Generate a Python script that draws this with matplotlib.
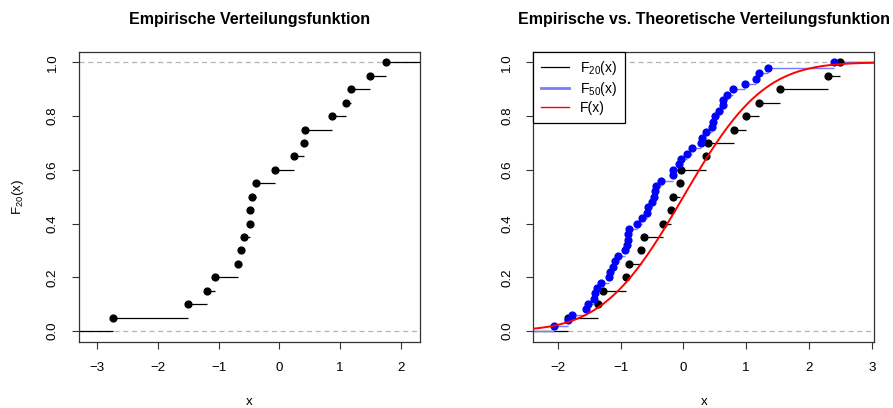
import math
import numpy as np
import matplotlib
matplotlib.use('Agg')
import matplotlib.pyplot as plt
from matplotlib.lines import Line2D

plt.rcParams['font.family'] = ['Liberation Sans', 'DejaVu Sans']
plt.rcParams['mathtext.fontset'] = 'custom'
plt.rcParams['mathtext.rm'] = 'Liberation Sans'
plt.rcParams['mathtext.it'] = 'Liberation Sans:italic'

# sample of 20 (left panel)
x20_left = [-2.735, -1.509, -1.186, -1.054, -0.686, -0.637, -0.587, -0.488, -0.483, -0.450,
            -0.389, -0.071, 0.247, 0.401, 0.429, 0.868, 1.104, 1.176, 1.499, 1.753]

# sample of 20 (right panel)
x20_right = [-1.841, -1.355, -1.286, -0.910, -0.862, -0.677, -0.619, -0.317, -0.201, -0.164,
             -0.058, -0.032, 0.354, 0.386, 0.798, 0.994, 1.211, 1.539, 2.306, 2.492]

# sample of 50 (right panel)
x50 = [-2.064, -1.831, -1.773, -1.551, -1.514, -1.429, -1.408, -1.381, -1.313, -1.191,
       -1.165, -1.128, -1.090, -1.048, -0.932, -0.900, -0.884, -0.879, -0.863, -0.746,
       -0.657, -0.577, -0.567, -0.498, -0.466, -0.450, -0.429, -0.350, -0.170, -0.159,
       -0.069, -0.032, 0.058, 0.137, 0.275, 0.301, 0.354, 0.460, 0.476, 0.497,
       0.566, 0.624, 0.629, 0.688, 0.788, 0.979, 1.153, 1.211, 1.349, 2.397]

titles = ['Empirische Verteilungsfunktion', 'Empirische vs. Theoretische Verteilungsfunktion']
legend_labels = [r'F$_{20}$(x)', r'F$_{50}$(x)', 'F(x)']
yticks = [0.0, 0.2, 0.4, 0.6, 0.8, 1.0]

FS = 9.6


def r_xlim(knots):
	rx = (min(knots), max(knots))
	dr = max(0.08 * (rx[1] - rx[0]), np.median(np.diff(sorted(knots))))
	lo, hi = rx[0] - dr, rx[1] + dr
	ext = 0.04 * (hi - lo)
	return lo - ext, hi + ext


def ecdf_plot(ax, data, col, linecol, lw, xlim):
	d = np.sort(np.asarray(data))
	n = len(d)
	yv = np.arange(1, n + 1) / n
	ax.hlines(0, xlim[0], d[0], color=linecol, lw=lw, zorder=2)
	right = np.append(d[1:], xlim[1])
	ax.hlines(yv, d, right, color=linecol, lw=lw, zorder=2)
	ax.plot(d, yv, 'o', color=col, ms=4.9, mec=col, zorder=3)


def style(ax, xticks, xlim):
	ax.set_xlim(xlim)
	ax.set_ylim(-0.04, 1.04)
	ax.axhline(0, color='#b3b3b3', lw=0.9, ls=(0, (4, 3)), zorder=1)
	ax.axhline(1, color='#b3b3b3', lw=0.9, ls=(0, (4, 3)), zorder=1)
	ax.set_xticks(xticks)
	ax.set_xticklabels([str(t).replace('-', '\u2212') for t in xticks])
	ax.set_yticks(yticks)
	ax.set_yticklabels(['%.1f' % t for t in yticks], rotation=90, va='center')
	ax.tick_params(direction='out', length=5, width=0.8, labelsize=FS, pad=9.5, color='#333333')
	for s in ax.spines.values():
		s.set_linewidth(0.9)
		s.set_color('#333333')
	ax.set_xlabel('x', fontsize=FS, labelpad=16)


fig = plt.figure(figsize=(8.93, 4.08), dpi=100)
ax1 = fig.add_axes([0.0885, 0.1625, 0.3819, 0.7108])
ax2 = fig.add_axes([0.5972, 0.1625, 0.3819, 0.7108])

xl1 = r_xlim(x20_left)
ecdf_plot(ax1, x20_left, 'black', 'black', 0.9, xl1)
style(ax1, [-3, -2, -1, 0, 1, 2], xl1)
ax1.set_ylabel(r'F$_{20}$(x)', fontsize=FS, labelpad=15)
ax1.set_title(titles[0], fontsize=11.5, fontweight='bold', pad=20)

xl2 = r_xlim(x20_right)
ecdf_plot(ax2, x20_right, 'black', 'black', 0.9, xl2)
ecdf_plot(ax2, x50, 'blue', '#7a7aff', 1.0, xl2)
xs = np.linspace(xl2[0], xl2[1], 300)
ax2.plot(xs, [0.5 * (1 + math.erf(v / math.sqrt(2))) for v in xs], color='red', lw=1.4, zorder=4)
style(ax2, [-2, -1, 0, 1, 2, 3], xl2)
ax2.set_title(titles[1], fontsize=11.5, fontweight='bold', pad=20)

handles = [Line2D([], [], color='black', lw=0.9),
           Line2D([], [], color='#7a7aff', lw=2.0),
           Line2D([], [], color='red', lw=1.0)]
leg = ax2.legend(handles, legend_labels, loc='upper left', bbox_to_anchor=(0, 1),
                 borderaxespad=0, fancybox=False, framealpha=1, edgecolor='black',
                 fontsize=10, handlelength=2.0, handletextpad=0.8, labelspacing=0.2,
                 borderpad=0.55)
leg.get_frame().set_linewidth(0.9)

fig.savefig('out.png', dpi=100)
